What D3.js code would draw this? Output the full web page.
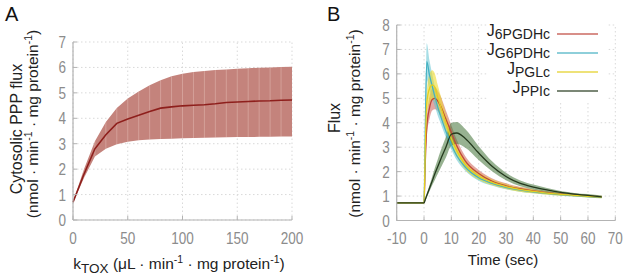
<!DOCTYPE html>
<html><head><meta charset="utf-8">
<script src="https://cdn.jsdelivr.net/npm/d3@7"></script>
<style>
html,body{margin:0;padding:0;background:#fff;}
svg{display:block;font-family:"Liberation Sans",Arial,sans-serif;}
</style></head>
<body>
<svg id="c" width="631" height="277"></svg>
<script>
// ---------- Panel A data ----------
const kTox = [0,10,20,30,40,50,60,70,80,90,100,110,120,130,140,150,160,170,180,190,200];
const fluxMean = [0.7,1.8,2.8,3.35,3.8,3.97,4.12,4.27,4.4,4.45,4.49,4.51,4.53,4.57,4.62,4.64,4.66,4.68,4.69,4.71,4.72];
const fluxUpper = [0.72,2.0,3.1,3.85,4.4,4.78,5.05,5.3,5.5,5.65,5.75,5.82,5.86,5.9,5.92,5.95,5.97,5.99,6.0,6.02,6.03];
const fluxLower = [0.68,1.65,2.5,2.8,2.98,3.08,3.14,3.17,3.19,3.2,3.21,3.22,3.23,3.24,3.25,3.26,3.26,3.27,3.27,3.28,3.28];
const ticksAX = [0,50,100,150,200];
const ticksAY = [0,1,2,3,4,5,6,7];

// ---------- Panel B data ----------
const time = [-10,0,0.5,1,2,3,4,5,6,8,10,12,15,20,25,30,35,40,45,50,55,60,65];
const j6pgdhMean = [0.72,0.72,2.5,3.8,4.6,4.95,5.0,4.9,4.7,4.15,3.6,3.05,2.45,1.92,1.6,1.42,1.3,1.21,1.14,1.08,1.04,1.0,0.96];
const j6pgdhSpread = [0,0,0.25,0.35,0.45,0.45,0.45,0.42,0.4,0.35,0.3,0.25,0.2,0.15,0.12,0.1,0.08,0.07,0.06,0.05,0.05,0.04,0.04];
const jg6pdhMean = [0.72,0.72,4.0,6.5,5.95,5.5,5.05,4.65,4.3,3.65,3.1,2.65,2.2,1.75,1.52,1.36,1.25,1.17,1.11,1.06,1.02,0.98,0.95];
const jg6pdhSpread = [0,0,0.4,0.75,0.6,0.5,0.4,0.35,0.3,0.25,0.2,0.18,0.15,0.12,0.1,0.08,0.07,0.06,0.05,0.05,0.04,0.04,0.04];
const jpglMean = [0.72,0.72,3.2,4.8,5.4,5.55,5.45,5.05,4.7,4.0,3.35,2.85,2.3,1.82,1.56,1.39,1.27,1.19,1.12,1.07,1.03,0.99,0.96];
const jpglSpread = [0,0,0.3,0.5,0.6,0.6,0.55,0.5,0.45,0.35,0.3,0.25,0.2,0.15,0.12,0.1,0.09,0.08,0.07,0.06,0.05,0.05,0.05];
const jppiMean = [0.72,0.72,0.87,1.02,1.32,1.62,1.92,2.2,2.48,3.0,3.53,3.58,3.37,2.76,2.21,1.8,1.53,1.37,1.25,1.15,1.08,1.03,0.97];
const jppiSpread = [0,0,0.05,0.08,0.12,0.18,0.25,0.3,0.35,0.42,0.47,0.45,0.38,0.28,0.2,0.15,0.12,0.1,0.08,0.06,0.05,0.05,0.05];
const seriesNames = ["6PGDHc","G6PDHc","PGLc","PPIc"];
const bandColors = ["rgba(205,95,85,0.55)","rgba(95,195,210,0.55)","rgba(238,218,45,0.6)","rgba(65,115,55,0.55)"];
const lineColors = ["#bf463b","#45b1c2","#e3cf1f","#24391d"];
const ticksBX = [-10,0,10,20,30,40,50,60,70];
const ticksBY = [0,1,2,3,4,5,6,7,8];

const svg = d3.select("#c");
const gridCol = "#d9d9d9", axisCol = "#b3b3b3", tickCol = "#8c8c8c";

function frame(x, y, tx, ty) {
  const g = svg.append("g");
  const [x0,x1] = x.range(), [y0,y1] = y.range();
  tx.forEach(t => g.append("line").attr("x1",x(t)).attr("x2",x(t)).attr("y1",y0).attr("y2",y1)
    .attr("stroke",gridCol).attr("stroke-dasharray","1.5,2.5"));
  ty.forEach(t => g.append("line").attr("y1",y(t)).attr("y2",y(t)).attr("x1",x0).attr("x2",x1)
    .attr("stroke",gridCol).attr("stroke-dasharray","1.5,2.5"));
  return g;
}
function tickText(g, x, y, anchor, t) {
  g.append("text").attr("transform",`translate(${x},${y}) scale(0.82,1)`).attr("text-anchor",anchor)
    .attr("font-size",16.5).attr("fill",tickCol).text(t);
}
function axes(x, y, tx, ty, xLabY) {
  const g = svg.append("g");
  const [x0,x1] = x.range(), [y0,y1] = y.range();
  g.append("line").attr("x1",x0).attr("x2",x0).attr("y1",y0).attr("y2",y1).attr("stroke",axisCol).attr("stroke-width",1.2);
  g.append("line").attr("x1",x0).attr("x2",x1).attr("y1",y0).attr("y2",y0).attr("stroke",axisCol).attr("stroke-width",1.2);
  tx.forEach(t => {
    g.append("line").attr("x1",x(t)).attr("x2",x(t)).attr("y1",y0).attr("y2",y0-4).attr("stroke",axisCol);
    tickText(g, x(t), xLabY, "middle", t);
  });
  ty.forEach(t => {
    g.append("line").attr("x1",x0).attr("x2",x0+4).attr("y1",y(t)).attr("y2",y(t)).attr("stroke",axisCol);
    tickText(g, x0-7, y(t)+6, "end", t);
  });
}
function supTitle(sel, parts) {
  let shift = 0;
  parts.forEach(([txt, type]) => {
    const target = type==="sup" ? -6 : type==="sub" ? 4 : 0;
    const ts = sel.append("tspan").attr("dy", target - shift).text(txt);
    if (type !== "n") ts.attr("font-size", type==="sup" ? 10.5 : 13.5);
    shift = target;
  });
}

// ---------- Panel A ----------
const xA = d3.scaleLinear().domain([0,200]).range([73,292]);
const yA = d3.scaleLinear().domain([0,7]).range([220,42]);
frame(xA, yA, ticksAX, ticksAY);
const dataA = kTox.map((k,i)=>({k, m:fluxMean[i], u:fluxUpper[i], l:fluxLower[i]}));
svg.append("path").datum(dataA)
  .attr("d", d3.area().x(d=>xA(d.k)).y0(d=>yA(d.l)).y1(d=>yA(d.u)))
  .attr("fill","#c4837c");
svg.append("g").selectAll("line").data(dataA.slice(1,-1)).join("line")
  .attr("x1",d=>xA(d.k)).attr("x2",d=>xA(d.k)).attr("y1",d=>yA(d.l)).attr("y2",d=>yA(d.u))
  .attr("stroke","rgba(255,235,230,0.35)").attr("stroke-width",0.8);
svg.append("path").datum(dataA)
  .attr("d", d3.line().x(d=>xA(d.k)).y(d=>yA(d.m)))
  .attr("fill","none").attr("stroke","#8e1f1c").attr("stroke-width",1.6);
axes(xA, yA, ticksAX, ticksAY, 244);

svg.append("text").attr("x",5).attr("y",21).attr("font-size",20).attr("fill","#111").text("A");
svg.append("text").attr("transform","translate(22,129) rotate(-90)").attr("text-anchor","middle")
  .attr("font-size",16).attr("fill","#222").text("Cytosolic PPP flux");
supTitle(svg.append("text").attr("transform","translate(37.5,124) rotate(-90)").attr("text-anchor","middle")
  .attr("font-size",15.5).attr("fill","#222"),
  [["(nmol · min","n"],["-1","sup"],[" · mg protein","n"],["-1","sup"],[")","n"]]);
supTitle(svg.append("text").attr("x",179).attr("y",269).attr("text-anchor","middle")
  .attr("font-size",15.5).attr("fill","#222"),
  [["k","n"],["TOX","sub"],[" (μL · min","n"],["-1","sup"],[" · mg protein","n"],["-1","sup"],[")","n"]]);

// ---------- Panel B ----------
const xB = d3.scaleLinear().domain([-10,70]).range([396.7,615.3]);
const yB = d3.scaleLinear().domain([0,8]).range([220.5,25]);
frame(xB, yB, ticksBX, ticksBY);
const means = [j6pgdhMean, jg6pdhMean, jpglMean, jppiMean];
const spreads = [j6pgdhSpread, jg6pdhSpread, jpglSpread, jppiSpread];
const seriesB = seriesNames.map((n,s)=>time.map((t,i)=>({t, m:means[s][i], s:spreads[s][i]})));
const curve = d3.curveMonotoneX;
seriesB.forEach((d,s)=>{
  svg.append("path").datum(d)
    .attr("d", d3.area().curve(curve).x(p=>xB(p.t)).y0(p=>yB(p.m-p.s)).y1(p=>yB(p.m+p.s)))
    .attr("fill", bandColors[s]);
});
seriesB.forEach((d,s)=>{
  svg.append("path").datum(d)
    .attr("d", d3.line().curve(curve).x(p=>xB(p.t)).y(p=>yB(p.m)))
    .attr("fill","none").attr("stroke", lineColors[s]).attr("stroke-width",1.3);
});
axes(xB, yB, ticksBX, ticksBY, 244);

// legend
const leg = svg.append("g");
leg.append("rect").attr("x",488).attr("y",22).attr("width",120).attr("height",80).attr("fill","#fff");
seriesNames.forEach((n,i)=>{
  const yy = 34 + i*19;
  leg.append("line").attr("x1",557).attr("x2",598).attr("y1",yy).attr("y2",yy)
    .attr("stroke", lineColors[i]).attr("stroke-width",1.5).attr("opacity",0.8);
  const t = leg.append("text").attr("x",550).attr("y",yy+2).attr("text-anchor","end")
    .attr("font-size",16).attr("fill","#222");
  t.append("tspan").text("J");
  t.append("tspan").attr("dy",3).attr("font-size",14).text(n);
});

svg.append("text").attr("x",327).attr("y",21).attr("font-size",20).attr("fill","#111").text("B");
svg.append("text").attr("transform","translate(340,118) rotate(-90)").attr("text-anchor","middle")
  .attr("font-size",16).attr("fill","#222").text("Flux");
supTitle(svg.append("text").attr("transform","translate(360,123.5) rotate(-90)").attr("text-anchor","middle")
  .attr("font-size",15.5).attr("fill","#222"),
  [["(nmol · min","n"],["-1","sup"],[" · mg protein","n"],["-1","sup"],[")","n"]]);
svg.append("text").attr("x",503).attr("y",264.5).attr("text-anchor","middle")
  .attr("font-size",15).attr("fill","#222").text("Time (sec)");
</script>
</body></html>
